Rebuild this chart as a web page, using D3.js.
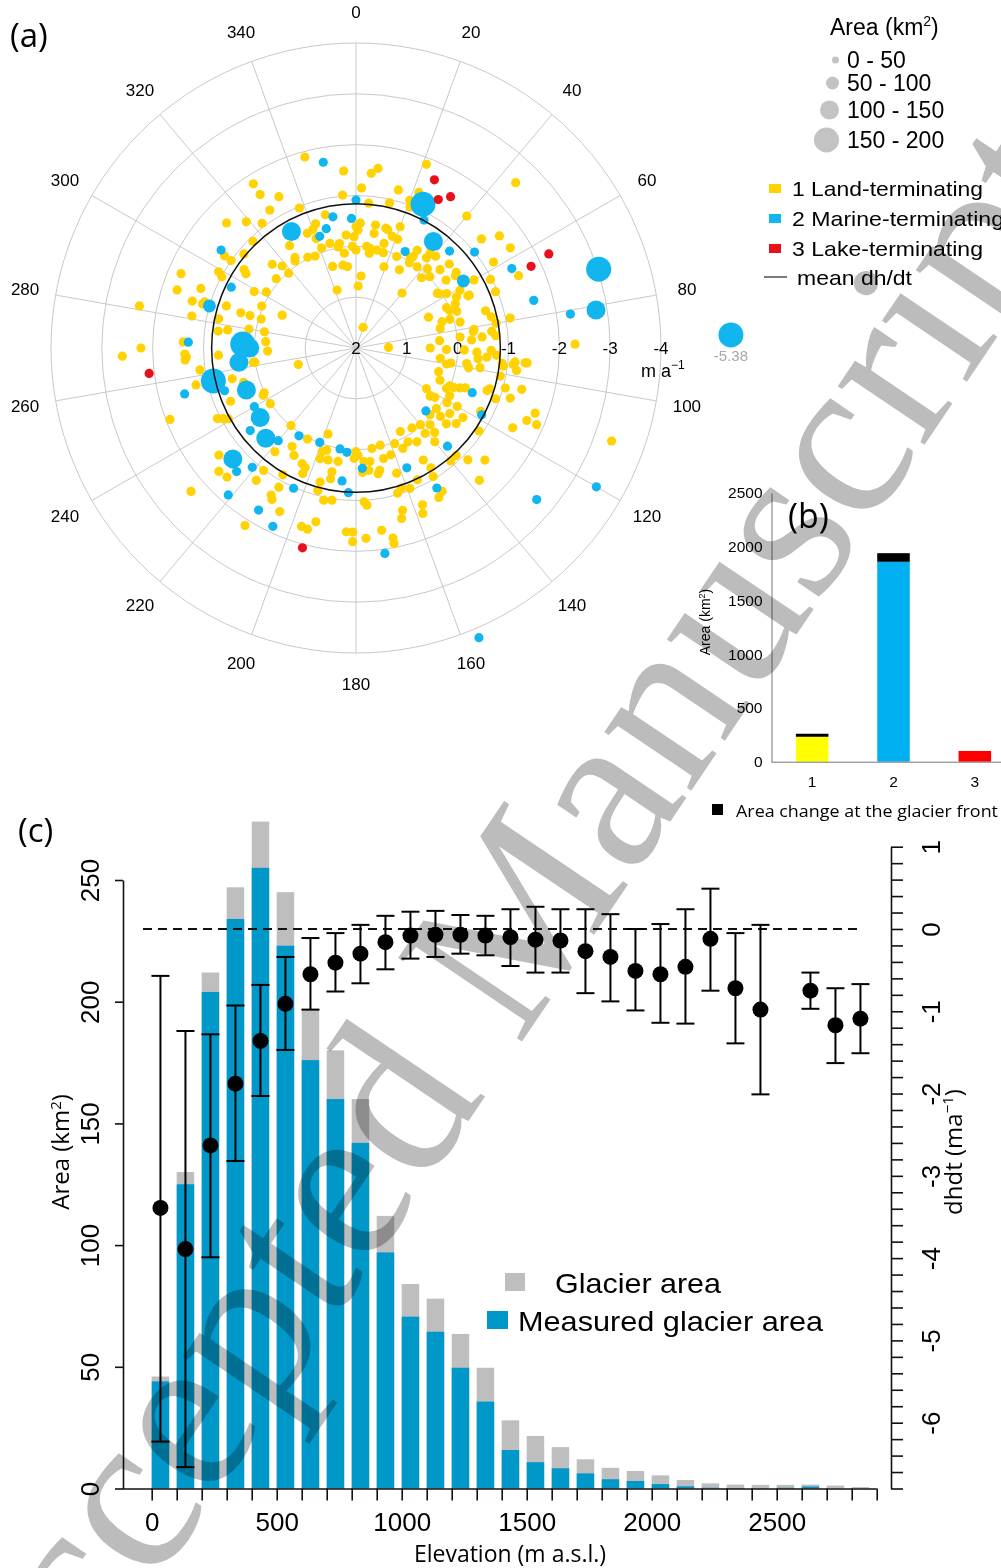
<!DOCTYPE html>
<html>
<head>
<meta charset="utf-8">
<script src="https://cdn.jsdelivr.net/npm/d3@7/dist/d3.min.js"></script>
<style>
  body { margin: 0; background: #fff; }
  svg { display: block; font-family: "Liberation Sans", Arial, sans-serif; }
  .myriad { font-family: "Open Sans", sans-serif; }
</style>
</head>
<body>
<svg id="fig" width="1001" height="1568"></svg>
<script>
// ---------- panel (a): dh/dt by aspect ----------
const aspectTicks = d3.range(0, 360, 20);
const ringValues = [1, 0, -1, -2, -3, -4];
const ringLabels = [2, 1, 0, -1, -2, -3, -4];
const meanDhdt = -0.84;

// [aspect (deg), dh/dt (m a-1)] — area class 0 - 50 km2
const landPts = [
  [345,-1.89],[356,-1.49],[328,-1.81],[328,-1.56],[333,-1.34],[355,-1.02],[328,-1.2],[338,-0.97],[347,-0.69],[314,-1.54],
  [319,-1.29],[323,-1.07],[337,-0.45],[342,-0.57],[346,-0.12],[350,-0.02],[353,0.12],[355,-0.23],[351,0.35],[340,-0.29],
  [358,0.0],[0,-0.39],[327,-0.4],[336,0.02],[325,-0.09],[315,-0.33],[318,-0.17],[318,0.02],[310,-0.88],[316,-0.92],
  [305,-1.16],[305,-1.0],[305,-0.69],[304,-0.61],[293,-1.74],[298,-0.99],[299,-0.29],[302,-0.08],[311,-0.08],[288,-1.7],
  [291,-1.27],[286,-1.35],[287,-1.11],[288,-0.68],[294,-0.03],[287,-0.37],[287,-0.18],[294,0.41],[281,-2.34],[342,0.8],
  [277,-0.73],[270,-2.23],[280,-0.14],
  [268,-2.6],[268,-1.37],[262,-1.1],[256,-0.51],[253,-0.31],[262,-0.01],[254,0.82],[244,-0.01],[237,-0.01],[247,-0.68],
  [249,-1.92],[243,-1.06],[241,-0.87],[220,0.01],[208,-0.03],[198,0.22],[218,-0.59],[213,-0.31],[210,-0.44],[205,-0.51],
  [203,-0.68],[210,-0.88],[217,-1.02],[232,-1.42],[228,-1.63],[225,-1.59],[217,-1.26],[209,-1.13],[210,-1.34],[209,-1.41],
  [205,-1.55],[229,-2.3],[212,-2.12],[197,-1.67],[195,-1.69],[193,-1.51],[192,-1.06],[189,-1.03],[195,-0.9],[191,-0.62],
  [191,-0.48],[195,-0.73],[189,-0.26],[194,-0.27],[196,-0.09],[183,-1.62],[181,-1.81],[203,-0.56],[198,-0.29],[198,-0.14],
  [267,-0.71],[266,-1.37],
  [299,-1.09],[286,-1.14],[281,-1.29],[267,-1.34],[272,-1.4],[282,-0.76],[278,-0.55],[287,0.05],[280,0.17],[274,0.22],
  [268,0.26],[262,-0.04],[243,-0.05],[257,-1.23],[242,-0.96],
  [21,-1.87],[22,-1.3],[5,-1.45],[7,-1.56],[2,-1.15],[15,-1.22],[13,-0.93],[20,-1.09],[21,-0.97],[5,-0.86],
  [40,-1.39],[44,-2.52],[49,-1.27],[52,-1.58],[57,-1.62],[58,-1.19],[66,-1.5],[89,-2.31],[79,-1.09],[74,-0.65],
  [68,-0.96],[63,-0.97],[60,-0.68],[53,-0.47],[48,-0.47],[47,-0.26],[41,-0.39],[38,-0.37],[37,0.0],[42,-0.1],
  [43,0.11],[46,-0.02],[56,0.07],[59,-0.08],[63,-0.22],[68,0.02],[73,0.07],[70,-0.11],[65,-0.43],[81,-0.35],
  [80,-0.8],[83,-0.69],[77,0.3],[84,-0.06],[86,-0.28],[19,1.57],[89,1.36],[40,0.59],[2,0.78],
  [2,-0.46],[9,-0.45],[14,-0.43],[20,-0.54],[18,-0.31],[15,-0.13],[6,-0.01],[0,0.07],[12,0.03],[24,0.03],
  [32,-0.12],[32,0.02],[29,0.24],[19,0.31],[8,0.12],[9,-0.28],[359,-0.19],[32,-0.27],[38,-0.25],
  [340,-0.48],[341,-0.08],[351,-0.08],[1,-0.32],[8,0.02],[16,0.05],[21,-0.29],[31,-0.08],[15,-0.41],[354,0.39],
  [4,0.58],[344,0.33],[332,-0.02],[326,-0.15],
  [57,0.04],[66,0.05],[66,-0.14],[73,0.23],[76,-0.11],[65,-0.46],[82,-0.33],[85,-0.49],[91,-0.13],[91,0.22],
  [99,0.11],[100,-0.25],[95,-0.41],[91,-0.66],[85,-0.76],[96,-0.89],[77,-0.73],[96,-1.11],[95,-1.38],[54,-0.42],
  [53,-0.22],[61,-0.34],[85,0.35],[67,0.45],
  [90,0.54],[97,0.33],[100,0.19],[106,0.31],[98,-0.2],[92,-0.38],[94,-0.58],[99,-0.47],[93,-0.77],[97,-0.92],
  [101,-0.89],[95,-1.14],[95,-1.34],[98,-1.19],[120,0.4],[122,0.17],[114,0.05],[112,-0.07],[111,-0.19],[108,-0.71],
  [105,-1.04],[108,-1.19],[104,-1.36],[110,-0.92],[121,-0.09],[120,-0.3],[125,-0.25],[123,-0.51],[127,0.02],[132,0.04],
  [130,-0.32],[127,-0.47],[129,-0.14],[117,-0.75],[124,-0.92],[117,-1.46],[113,-1.65],[110,-1.75],[113,-1.86],[110,-3.35],
  [131,-1.36],[135,-1.11],[137,-1.56],[140,-0.9],[137,-0.89],
  [152,0.14],[158,-0.03],[155,-0.18],[147,-0.2],[141,-0.16],[137,-0.27],[140,-0.41],[149,-0.57],[148,-0.78],[149,-0.95],
  [149,-1.29],[151,-1.36],[159,-0.96],[155,-0.86],[164,-0.97],[164,-1.32],[165,-1.47],[157,-1.35],[158,-1.51],[170,-0.51],
  [174,-0.42],[166,-0.24],[176,-0.24],[171,0.0],[166,0.03],[162,-0.59],[162,-0.9],[177,-1.03],[176,-1.1],[177,-1.75],
  [172,-1.62],[169,-1.81],[169,-1.92],[179,-0.11],[151,-0.11],[145,0.08],[162,-0.21],
  [111,0.23],[112,0.01],[123,0.26],[117,-0.07],[110,-0.29],[107,-0.75],[136,-0.1],[140,0.03],[180,-0.04],[181,-0.17],
  [173,-0.25],[169,-0.45],[177,-0.45],[181,-1.62]
];

// [aspect, dh/dt, area class 0..3]
const marinePts = [
  [350,-1.71,0],[0,-0.91,0],[350,-0.62,0],[358,-0.55,0],[331,-0.62,2],[346,-0.42,0],[342,-0.31,0],[306,-1.28,0],
  [296,-0.73,0],[286,-1.0,1],[272,-1.3,0],[272,-0.23,3],[263,-0.32,2],[270,-0.09,2],
  [257,-0.88,3],[255,-1.49,0],[252,-0.72,0],[249,-0.31,2],[240,-0.31,0],[234,-0.33,2],[232,-0.64,0],[225,-0.51,2],
  [220,-0.38,0],[213,-0.06,0],[201,0.01,0],[221,-1.11,0],[228,-1.26,2],[224,-1.38,0],[204,-1.02,0],[221,-1.83,0],
  [211,-1.72,0],[205,-1.87,0],[186,-0.63,0],[183,-0.85,0],[189,-0.01,0],[185,-0.06,0],
  [25,-1.12,3],[28,-0.85,0],[36,-0.59,2],[44,-0.65,0],[51,-1.0,0],[63,-1.44,0],[72,-3.02,3],[81,-2.78,2],
  [81,-2.27,0],[75,-1.62,0],[58,-0.49,1],[27,-0.13,0],
  [111,-0.45,0],[132,0.15,0],[118,-0.8,0],[120,-3.46,0],[130,-2.64,0],[157,-4.19,0],[137,-0.64,0],[177,-0.37,0],
  [157,-0.56,0],[150,-1.18,0],[172,-2.08,0],
  [88,-5.38,3]
];

const lakePts = [[25,-1.65],[29,-1.34],[32,-1.51],[65,-1.8],[64,-2.22],[263,-2.1],[195,-2.07]];

const areaClasses = ["0 - 50", "50 - 100", "100 - 150", "150 - 200"];
const typeLabels = ["1 Land-terminating", "2 Marine-terminating", "3 Lake-terminating"];

// ---------- panel (b): area per terminus type ----------
const termTypes = ["1", "2", "3"];
const typeArea = [232, 1860, 100];
const frontChange = [28, 80, 0];
const bTicks = [0, 500, 1000, 1500, 2000, 2500];

// ---------- panel (c): hypsometry and dh/dt ----------
const elevBins = d3.range(0, 2900, 100);
const glacierArea = [46, 130, 212, 247, 274, 245, 197, 180, 160, 112, 84, 78, 63.5, 49.6, 28,
  21.6, 17, 12, 8.5, 7.2, 5.4, 3.5, 2.1, 1.6, 1.5, 1.5, 1.6, 1.2, 0.6];
const measuredArea = [44, 125, 204, 234, 255, 223, 176, 160, 142, 97, 70.6, 64.4, 49.6, 35.7, 15.8,
  10.8, 8.3, 6.2, 3.8, 3.1, 1.8, 0.9, 0.3, 0.2, 0.1, 0.3, 0.8, 0, 0];
const dhdtMean = [-3.39, -3.89, -2.63, -1.88, -1.36, -0.91, -0.55, -0.41, -0.30, -0.16, -0.08, -0.07, -0.07, -0.08,
  -0.10, -0.13, -0.14, -0.27, -0.34, -0.51, -0.55, -0.46, -0.12, -0.72, -0.98, null, -0.75, -1.17, -1.09];
const dhdtHigh = [-0.57, -1.24, -1.28, -0.93, -0.68, -0.34, -0.11, -0.05, 0.05, 0.16, 0.21, 0.22, 0.17, 0.16,
  0.24, 0.27, 0.24, 0.24, 0.18, 0.0, 0.06, 0.24, 0.49, -0.05, 0.05, null, -0.53, -0.72, -0.67];
const dhdtLow = [-6.23, -6.54, -3.99, -2.82, -2.03, -1.47, -0.98, -0.76, -0.66, -0.49, -0.36, -0.34, -0.30, -0.32,
  -0.45, -0.53, -0.53, -0.78, -0.88, -0.99, -1.14, -1.15, -0.75, -1.39, -2.01, null, -0.97, -1.63, -1.51];

const colors = { land: "#ffd200", marine: "#12b6ee", lake: "#e8101a" };

const svg = d3.select("#fig");

// ================= panel (a) =================
function drawPolar() {
  const cx = 356, cy = 348;
  const r = d3.scaleLinear().domain([2, -4]).range([0, 305]);
  const size = d3.scaleOrdinal().domain([0, 1, 2, 3]).range([4.6, 6.5, 9.5, 12.5]);
  const toXY = (a, v) => [cx + r(v) * Math.sin(a * Math.PI / 180), cy - r(v) * Math.cos(a * Math.PI / 180)];
  const g = svg.append("g");

  g.selectAll(".ring").data(ringValues).join("circle")
    .attr("cx", cx).attr("cy", cy).attr("r", d => r(d))
    .attr("fill", "none").attr("stroke", "#c9c9c9").attr("stroke-width", 1);
  g.selectAll(".spoke").data(aspectTicks).join("line")
    .attr("x1", cx).attr("y1", cy)
    .attr("x2", d => toXY(d, -4)[0]).attr("y2", d => toXY(d, -4)[1])
    .attr("stroke", "#c9c9c9").attr("stroke-width", 1);

  g.selectAll(".alab").data(aspectTicks).join("text")
    .attr("x", d => cx + 336 * Math.sin(d * Math.PI / 180))
    .attr("y", d => cy - 336 * Math.cos(d * Math.PI / 180))
    .attr("text-anchor", "middle").attr("dominant-baseline", "central")
    .attr("font-size", 17).text(d => d);

  g.selectAll(".rlab").data(ringLabels).join("text")
    .attr("x", d => toXY(90, d)[0]).attr("y", cy)
    .attr("text-anchor", "middle").attr("dominant-baseline", "central")
    .attr("font-size", 17).text(d => d);
  const unit = g.append("text").attr("x", 641).attr("y", 377).attr("font-size", 18).text("m a");
  unit.append("tspan").attr("dy", -8).attr("font-size", 12).text("−1");

  const dots = g.append("g");
  dots.selectAll(".land").data(landPts).join("circle")
    .attr("cx", d => toXY(d[0], d[1])[0]).attr("cy", d => toXY(d[0], d[1])[1])
    .attr("r", size(0)).attr("fill", colors.land);
  dots.selectAll(".marine").data(marinePts).join("circle")
    .attr("cx", d => toXY(d[0], d[1])[0]).attr("cy", d => toXY(d[0], d[1])[1])
    .attr("r", d => size(d[2])).attr("fill", colors.marine);
  dots.selectAll(".lake").data(lakePts).join("circle")
    .attr("cx", d => toXY(d[0], d[1])[0]).attr("cy", d => toXY(d[0], d[1])[1])
    .attr("r", size(0)).attr("fill", colors.lake);

  // label for the point outside the rings
  const far = marinePts.filter(d => d[1] < -5);
  g.selectAll(".farlab").data(far).join("text")
    .attr("x", d => toXY(d[0], d[1])[0]).attr("y", d => toXY(d[0], d[1])[1] + 26)
    .attr("text-anchor", "middle").attr("font-size", 15).attr("fill", "#a8a8a8").text(d => d[1].toFixed(2));

  g.append("circle").attr("cx", cx).attr("cy", cy).attr("r", r(meanDhdt))
    .attr("fill", "none").attr("stroke", "#111").attr("stroke-width", 1.5);

  // legends
  const lg = svg.append("g");
  const title = lg.append("text").attr("x", 830).attr("y", 35).attr("font-size", 23).text("Area (km");
  title.append("tspan").attr("dy", -9).attr("font-size", 14).text("2");
  title.append("tspan").attr("dy", 9).text(")");
  const legR = [3.5, 6.5, 9.5, 12.5];
  const legY = [60, 83, 110, 140];
  areaClasses.forEach((c, i) => {
    lg.append("circle").attr("cx", 839 - legR[i]).attr("cy", legY[i]).attr("r", legR[i]).attr("fill", "#c3c3c3");
    lg.append("text").attr("x", 847).attr("y", legY[i]).attr("dominant-baseline", "central")
      .attr("font-size", 23).text(c);
  });
  const typeColors = [colors.land, colors.marine, colors.lake];
  const rowY = [188, 218, 248, 277];
  const rowLen = [191, 212, 191];
  typeLabels.forEach((t, i) => {
    lg.append("rect").attr("x", 769).attr("y", rowY[i] - 4).attr("width", 12).attr("height", 9).attr("fill", typeColors[i]);
    lg.append("text").attr("x", 792).attr("y", rowY[i]).attr("dominant-baseline", "central")
      .attr("font-size", 21).attr("textLength", rowLen[i]).attr("lengthAdjust", "spacingAndGlyphs").text(t);
  });
  lg.append("line").attr("x1", 764).attr("x2", 787).attr("y1", rowY[3]).attr("y2", rowY[3]).attr("stroke", "#222").attr("stroke-width", 1.2);
  lg.append("text").attr("x", 797).attr("y", rowY[3]).attr("dominant-baseline", "central").attr("font-size", 21)
    .attr("textLength", 115).attr("lengthAdjust", "spacingAndGlyphs").text("mean dh/dt");

  svg.append("text").attr("class", "myriad").attr("x", 10).attr("y", 47).attr("font-size", 33).text("(a)");
}

// ================= panel (b) =================
function drawBars() {
  const y = d3.scaleLinear().domain([0, 2500]).range([761.7, 493]);
  const x = d3.scaleBand().domain(termTypes).range([771.5, 1015.5]).paddingInner(0.6).paddingOuter(0.3);
  const g = svg.append("g");
  const barColors = ["#ffff00", "#00b0f0", "#ff0000"];

  g.selectAll(".base").data(termTypes).join("rect")
    .attr("x", d => x(d)).attr("width", x.bandwidth())
    .attr("y", (d, i) => y(typeArea[i])).attr("height", (d, i) => y(0) - y(typeArea[i]))
    .attr("fill", (d, i) => barColors[i]);
  g.selectAll(".front").data(termTypes).join("rect")
    .attr("x", d => x(d)).attr("width", x.bandwidth())
    .attr("y", (d, i) => y(typeArea[i] + frontChange[i])).attr("height", (d, i) => y(typeArea[i]) - y(typeArea[i] + frontChange[i]))
    .attr("fill", "#000");

  const ay = g.append("g").attr("transform", "translate(771.5,0)")
    .call(d3.axisLeft(y).tickValues(bTicks).tickFormat(d3.format("d")).tickSize(0).tickPadding(9));
  ay.select(".domain").attr("stroke", "#777");
  ay.selectAll("text").attr("font-size", 15.5).attr("font-family", "Liberation Sans, Arial");
  const ax = g.append("g").attr("transform", `translate(0,${y(0)})`)
    .call(d3.axisBottom(x).tickSize(0).tickPadding(14));
  ax.select(".domain").attr("d", `M771.5,0.5H1001`).attr("stroke", "#777");
  ax.selectAll("text").attr("font-size", 15.5).attr("font-family", "Liberation Sans, Arial");

  const yl = g.append("text").attr("transform", "translate(710,622) rotate(-90)")
    .attr("text-anchor", "middle").attr("font-size", 14).text("Area (km");
  yl.append("tspan").attr("dy", -5).attr("font-size", 9).text("2");
  yl.append("tspan").attr("dy", 5).text(")");

  svg.append("text").attr("class", "myriad").attr("x", 788).attr("y", 528).attr("font-size", 34).text("(b)");

  g.append("rect").attr("x", 712).attr("y", 804).attr("width", 11).attr("height", 11).attr("fill", "#000");
  g.append("text").attr("class", "myriad").attr("x", 736).attr("y", 817).attr("font-size", 17)
    .attr("textLength", 262).attr("lengthAdjust", "spacingAndGlyphs").text("Area change at the glacier front");
}

// ================= panel (c) =================
function drawHypso() {
  const x = d3.scaleLinear().domain([0, 2900]).range([151.7, 876.7]);
  const yA = d3.scaleLinear().domain([0, 250]).range([1488.5, 880]);
  const yD = d3.scaleLinear().domain([-6.8, 1]).range([1488.5, 846.7]);
  const barW = x(70) - x(0);
  const leftX = 123, rightX = 891;
  const g = svg.append("g");

  g.selectAll(".ga").data(elevBins).join("rect")
    .attr("x", d => x(d)).attr("width", barW)
    .attr("y", (d, i) => yA(glacierArea[i])).attr("height", (d, i) => yA(0) - yA(glacierArea[i]))
    .attr("fill", "#bebebe");
  g.selectAll(".ma").data(elevBins).join("rect")
    .attr("x", d => x(d)).attr("width", barW)
    .attr("y", (d, i) => yA(measuredArea[i])).attr("height", (d, i) => yA(0) - yA(measuredArea[i]))
    .attr("fill", "#0097c9");

  // left axis
  const al = g.append("g").attr("transform", `translate(${leftX},0)`)
    .call(d3.axisLeft(yA).tickValues(d3.range(0, 251, 50)).tickSize(8).tickSizeOuter(0));
  al.selectAll("text").attr("x", 0).attr("dy", 0).attr("text-anchor", "middle")
    .attr("transform", "translate(-24,0) rotate(-90)").attr("font-size", 26);
  // bottom axis
  const ab = g.append("g").attr("transform", `translate(0,${yA(0)})`)
    .call(d3.axisBottom(x).tickValues(d3.range(0, 2901, 100)).tickSize(12).tickSizeOuter(0)
      .tickFormat(d => d % 500 === 0 ? d : ""));
  ab.select(".domain").attr("d", `M${leftX},0.5H${x(2900)}`);
  ab.selectAll("text").attr("font-size", 26).attr("dy", "1.05em");
  // right axis
  const ar = g.append("g").attr("transform", `translate(${rightX},0)`)
    .call(d3.axisRight(yD).tickValues(d3.range(-34, 6).map(i => i / 5)).tickSize(12).tickSizeOuter(0)
      .tickFormat(d => Math.abs(d - Math.round(d)) < 1e-6 ? String(Math.round(d)) : ""));
  ar.selectAll("text").attr("x", 0).attr("dy", 0).attr("text-anchor", "middle")
    .attr("transform", "translate(49,0) rotate(-90)").attr("font-size", 26);
  g.selectAll(".domain, .tick line").attr("stroke", "#111").attr("stroke-width", 1.6);

  g.append("line").attr("x1", 143).attr("x2", 860).attr("y1", yD(0)).attr("y2", yD(0))
    .attr("stroke", "#111").attr("stroke-width", 1.8).attr("stroke-dasharray", "9,6");

  const pts = elevBins.map((e, i) => ({ e, m: dhdtMean[i], lo: dhdtLow[i], hi: dhdtHigh[i] })).filter(d => d.m !== null);
  const eb = g.append("g").attr("stroke", "#000").attr("stroke-width", 2);
  eb.selectAll(".v").data(pts).join("line")
    .attr("x1", d => x(d.e + 35)).attr("x2", d => x(d.e + 35)).attr("y1", d => yD(d.lo)).attr("y2", d => yD(d.hi));
  eb.selectAll(".lo").data(pts).join("line")
    .attr("x1", d => x(d.e + 35) - 9).attr("x2", d => x(d.e + 35) + 9).attr("y1", d => yD(d.lo)).attr("y2", d => yD(d.lo));
  eb.selectAll(".hi").data(pts).join("line")
    .attr("x1", d => x(d.e + 35) - 9).attr("x2", d => x(d.e + 35) + 9).attr("y1", d => yD(d.hi)).attr("y2", d => yD(d.hi));
  g.selectAll(".dot").data(pts).join("circle")
    .attr("cx", d => x(d.e + 35)).attr("cy", d => yD(d.m)).attr("r", 8).attr("fill", "#000");

  // titles
  const tl = g.append("text").attr("transform", "translate(69,1152) rotate(-90)")
    .attr("text-anchor", "middle").attr("font-size", 24).attr("class", "myriad").text("Area (km");
  tl.append("tspan").attr("dy", -8).attr("font-size", 15).text("2");
  tl.append("tspan").attr("dy", 8).text(")");
  const tr = g.append("text").attr("transform", "translate(962,1152) rotate(-90)")
    .attr("text-anchor", "middle").attr("font-size", 24).attr("class", "myriad").text("dhdt (ma");
  tr.append("tspan").attr("dy", -9).attr("font-size", 15).text("−1");
  tr.append("tspan").attr("dy", 9).text(")");
  g.append("text").attr("class", "myriad").attr("x", 510).attr("y", 1562).attr("text-anchor", "middle")
    .attr("font-size", 23).text("Elevation (m a.s.l.)");

  // legend
  g.append("rect").attr("x", 505).attr("y", 1273).attr("width", 20).attr("height", 18).attr("fill", "#bebebe");
  g.append("text").attr("x", 555).attr("y", 1293).attr("font-size", 28)
    .attr("textLength", 166).attr("lengthAdjust", "spacingAndGlyphs").text("Glacier area");
  g.append("rect").attr("x", 487).attr("y", 1311).attr("width", 21).attr("height", 18).attr("fill", "#0097c9");
  g.append("text").attr("x", 518).attr("y", 1331).attr("font-size", 28)
    .attr("textLength", 305).attr("lengthAdjust", "spacingAndGlyphs").text("Measured glacier area");

  svg.append("text").attr("class", "myriad").attr("x", 18).attr("y", 842).attr("font-size", 33).text("(c)");
}

drawPolar();
drawBars();
drawHypso();

// watermark over everything
svg.append("text")
  .attr("transform", "translate(552,997) rotate(-56)")
  .attr("text-anchor", "middle")
  .attr("font-family", "Liberation Serif, Times New Roman, serif").attr("font-size", 228)
  .attr("fill", "#bcbcbc").style("mix-blend-mode", "multiply")
  .text("Accepted Manuscript");
</script>
</body>
</html>
